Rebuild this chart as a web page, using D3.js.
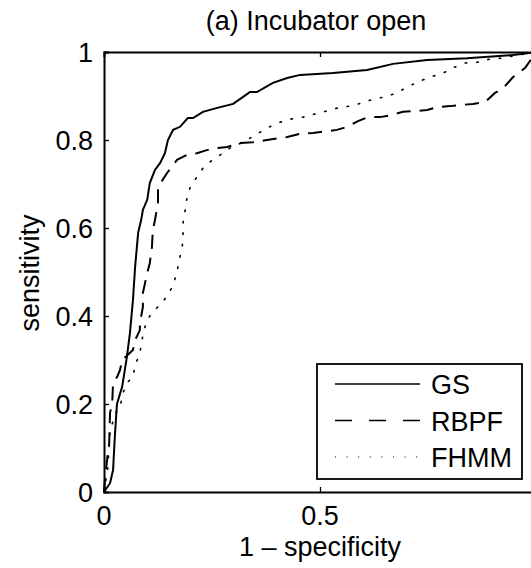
<!DOCTYPE html>
<html>
<head>
<meta charset="utf-8">
<script src="https://cdn.jsdelivr.net/npm/d3@7"></script>
<style>
body { margin:0; background:white; }
text { font-family: "Liberation Sans", Arial, sans-serif; fill:black; }
</style>
</head>
<body>
<svg id="roc"></svg>
<script>
// ROC points, (1 - specificity, sensitivity)
var gsX = [0,0.014,0.021,0.025,0.030,0.042,0.053,0.060,0.067,0.072,0.079,0.086,0.090,0.100,0.106,0.118,0.130,0.141,0.148,0.160,0.176,0.194,0.206,0.229,0.262,0.299,0.322,0.338,0.354,0.391,0.424,0.454,0.530,0.609,0.669,0.748,0.840,0.947,0.988,1];
var gsY = [0,0.020,0.050,0.125,0.200,0.239,0.307,0.361,0.436,0.511,0.589,0.618,0.641,0.664,0.702,0.732,0.748,0.770,0.800,0.823,0.830,0.850,0.850,0.864,0.873,0.882,0.898,0.909,0.909,0.930,0.941,0.948,0.952,0.959,0.973,0.982,0.986,0.993,0.998,1];

var rbpfX = [0,0.002,0.009,0.012,0.014,0.019,0.021,0.030,0.037,0.042,0.067,0.072,0.083,0.083,0.090,0.090,0.100,0.106,0.111,0.113,0.118,0.125,0.125,0.146,0.169,0.192,0.215,0.238,0.262,0.285,0.315,0.345,0.377,0.424,0.454,0.484,0.539,0.563,0.588,0.611,0.639,0.667,0.692,0.725,0.748,0.771,0.801,0.831,0.854,0.882,0.905,0.924,0.947,0.963,0.975,0.99,1];
var rbpfY = [0,0.027,0.089,0.111,0.180,0.202,0.248,0.261,0.277,0.300,0.323,0.345,0.368,0.384,0.420,0.452,0.498,0.520,0.557,0.595,0.618,0.657,0.693,0.725,0.755,0.766,0.770,0.777,0.782,0.784,0.793,0.795,0.800,0.807,0.814,0.816,0.823,0.830,0.843,0.852,0.852,0.857,0.864,0.866,0.868,0.875,0.877,0.880,0.882,0.886,0.907,0.918,0.943,0.955,0.964,0.985,1];

var fhmmX = [0,0.009,0.014,0.030,0.037,0.044,0.053,0.067,0.072,0.079,0.086,0.090,0.097,0.109,0.118,0.134,0.148,0.160,0.169,0.174,0.181,0.183,0.183,0.188,0.192,0.199,0.215,0.229,0.245,0.269,0.292,0.322,0.350,0.377,0.403,0.435,0.461,0.488,0.516,0.542,0.569,0.597,0.623,0.650,0.678,0.701,0.727,0.755,0.785,0.808,0.836,0.866,0.894,0.921,0.947,1];
var fhmmY = [0,0.057,0.141,0.186,0.193,0.225,0.248,0.261,0.289,0.305,0.330,0.357,0.384,0.405,0.414,0.430,0.448,0.470,0.500,0.527,0.555,0.582,0.611,0.641,0.668,0.691,0.716,0.736,0.750,0.766,0.782,0.795,0.811,0.827,0.839,0.848,0.852,0.859,0.866,0.873,0.877,0.884,0.893,0.898,0.907,0.920,0.932,0.943,0.952,0.964,0.975,0.977,0.984,0.986,0.991,1];

var seriesNames = ["GS","RBPF","FHMM"];
var xTicks = [0,0.5];
var yTicks = [0,0.2,0.4,0.6,0.8,1];
var yTickLabels = ["0","0.2","0.4","0.6","0.8","1"];
var xTickLabels = ["0","0.5"];

var dashes = {"GS":null,"RBPF":"14,9","FHMM":"1.5,10"};
var widths = {"GS":2,"RBPF":2,"FHMM":1.6};

var zipPts = function(xs,ys)
{
    return xs.map(function(x,i){ return {x:x,y:ys[i]}; });
}

var initGraph = function()
{
    var screen = {width:531,height:568};
    var margins = {left:104,right:-5,top:52,bottom:76};
    var graph =
        {
            width:screen.width-margins.left-margins.right,
            height:screen.height-margins.top-margins.bottom
        };

    var svg = d3.select("#roc")
        .attr("width",screen.width)
        .attr("height",screen.height);

    var xScale = d3.scaleLinear().domain([0,1]).range([0,graph.width]);
    var yScale = d3.scaleLinear().domain([0,1]).range([graph.height,0]);

    var target = svg.append("g")
        .attr("transform","translate("+margins.left+","+margins.top+")");

    // lines
    var lineGen = d3.line()
        .x(function(d){ return xScale(d.x); })
        .y(function(d){ return yScale(d.y); });

    var data = {
        "GS":zipPts(gsX,gsY),
        "RBPF":zipPts(rbpfX,rbpfY),
        "FHMM":zipPts(fhmmX,fhmmY)
    };

    target.selectAll("path.roc")
        .data(seriesNames)
        .enter()
        .append("path")
        .attr("class","roc")
        .attr("d",function(n){ return lineGen(data[n]); })
        .attr("fill","none")
        .attr("stroke","black")
        .attr("stroke-width",function(n){ return widths[n]; })
        .attr("stroke-dasharray",function(n){ return dashes[n]; })
        .attr("stroke-linecap",function(n){ return n=="FHMM" ? "round" : "butt"; });

    // axes (ticks point inward, box all round)
    var bottomAxis = d3.axisBottom(xScale).tickValues(xTicks).tickSize(-5).tickFormat("");
    var topAxis = d3.axisTop(xScale).tickValues(xTicks).tickSize(-5).tickFormat("");
    var leftAxis = d3.axisLeft(yScale).tickValues(yTicks).tickSize(-5).tickFormat("");
    var rightAxis = d3.axisRight(yScale).tickValues(yTicks).tickSize(-5).tickFormat("");

    var axes = [
        {ax:bottomAxis,t:"translate(0,"+graph.height+")"},
        {ax:topAxis,t:"translate(0,0)"},
        {ax:leftAxis,t:"translate(0,0)"},
        {ax:rightAxis,t:"translate("+graph.width+",0)"}
    ];
    axes.forEach(function(a)
    {
        var g = target.append("g").attr("transform",a.t).call(a.ax);
        g.select(".domain").attr("stroke","black").attr("stroke-width",2);
        g.selectAll(".tick line").attr("stroke","black").attr("stroke-width",1.3);
    });

    // tick labels
    target.selectAll("text.xt")
        .data(xTicks)
        .enter()
        .append("text")
        .attr("class","xt")
        .attr("x",function(d){ return xScale(d); })
        .attr("y",graph.height+33)
        .attr("text-anchor","middle")
        .attr("font-size","27px")
        .text(function(d,i){ return xTickLabels[i]; });

    target.selectAll("text.yt")
        .data(yTicks)
        .enter()
        .append("text")
        .attr("class","yt")
        .attr("x",-11)
        .attr("y",function(d){ return yScale(d)+10; })
        .attr("text-anchor","end")
        .attr("font-size","27px")
        .text(function(d,i){ return yTickLabels[i]; });

    // labels
    svg.append("text")
        .attr("x",316)
        .attr("y",30)
        .attr("text-anchor","middle")
        .attr("font-size","27px")
        .text("(a) Incubator open");

    svg.append("text")
        .attr("x",320)
        .attr("y",556)
        .attr("text-anchor","middle")
        .attr("font-size","27px")
        .text("1 \u2013 specificity");

    svg.append("text")
        .attr("transform","translate(39,273) rotate(-90)")
        .attr("text-anchor","middle")
        .attr("font-size","27px")
        .text("sensitivity");

    // legend
    var legend = svg.append("g").attr("transform","translate(317,364)");
    legend.append("rect")
        .attr("width",205)
        .attr("height",115)
        .attr("fill","white")
        .attr("stroke","black")
        .attr("stroke-width",1.8);

    var rows = legend.selectAll("g.row")
        .data(seriesNames)
        .enter()
        .append("g")
        .attr("class","row")
        .attr("transform",function(d,i){ return "translate(0,"+(20+i*36.5)+")"; });

    rows.append("line")
        .attr("x1",18)
        .attr("x2",103)
        .attr("stroke","black")
        .attr("stroke-width",function(n){ return n=="FHMM" ? 1.2 : 1.5; })
        .attr("stroke-dasharray",function(n){ return n=="RBPF" ? "17,17" : (n=="FHMM" ? "1,10.6" : null); });

    rows.append("text")
        .attr("x",114)
        .attr("y",10)
        .attr("font-size","27px")
        .text(function(d){ return d; });
}

initGraph();
</script>
</body>
</html>
